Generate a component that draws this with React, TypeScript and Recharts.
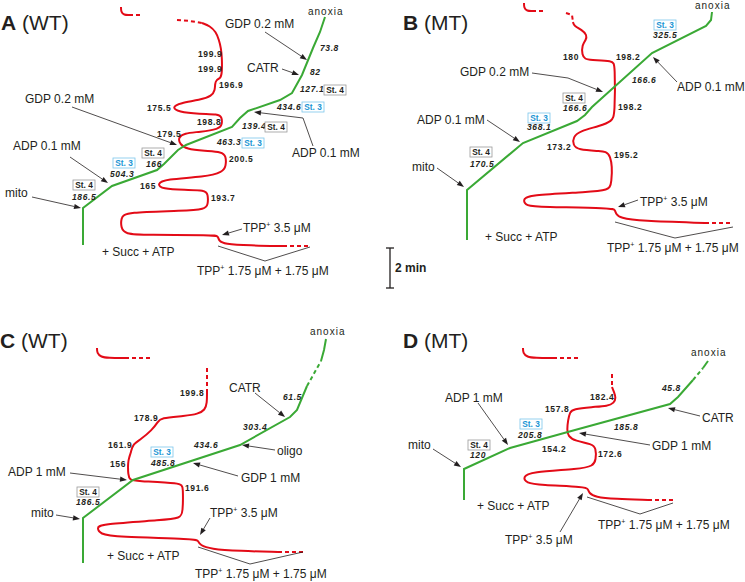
import React from 'react';
import { ComposedChart, Line, XAxis, YAxis, ReferenceLine, ReferenceDot } from 'recharts';

type Pt = [number, number];

const W = 745;
const H = 582;
const RED = '#e30b17';
const GREEN = '#3aa935';
const INK = '#231f20';
const BLUE = '#1b95d4';
const FONT = '"Liberation Sans", Arial, Helvetica, sans-serif';

// ---- traces, in figure units (x across, y = time running down) ----
// panel A (WT)
const aRedTop: Pt[] = [[121, 7], [121, 12], [124, 15], [129, 15]];
const aRedTopDash: Pt[] = [[129, 15], [141, 15]];
const aRedMidDash: Pt[] = [[177, 20], [190, 21], [202, 23]];
const aRed: Pt[] = [
  [202, 23], [210, 26], [216, 32], [219, 40], [221, 48], [222, 58], [222, 72], [221, 78], [216, 80],
  [215, 84], [215, 90], [212, 96], [200, 100], [180, 103], [172, 107], [178, 112], [200, 114], [218, 114],
  [222, 117], [222, 125], [219, 129], [200, 132], [184, 133], [178, 138], [180, 144], [186, 149], [205, 151],
  [222, 152], [226, 156], [226, 166], [223, 172], [205, 177], [165, 179], [157, 184], [162, 189], [185, 190],
  [205, 190], [208, 194], [208, 205], [205, 209], [185, 211], [125, 212], [121, 218], [121, 228], [125, 234],
  [145, 235], [214, 235], [218, 236], [219, 241], [224, 244], [250, 245.5], [283, 246],
];
const aRedEndDash: Pt[] = [[283, 246], [310, 246]];
const aGreen: Pt[] = [
  [83, 245], [83, 208], [112, 186], [157, 170], [164, 164], [178, 150], [186, 145], [232, 127], [240, 118],
  [248, 111], [280, 100], [292, 93], [302, 75], [313, 48], [320, 32], [325, 17],
];

// panel B (MT)
const bRedTop: Pt[] = [[524, 3], [524, 8], [527, 11], [532, 11]];
const bRedTopDash: Pt[] = [[532, 11], [544, 11]];
const bRedMidDash: Pt[] = [[566, 13], [572, 15], [573, 22]];
const bRed: Pt[] = [
  [573, 22], [574, 26], [582, 30], [587, 35], [586, 40], [582, 45], [582, 55], [585, 59], [590, 60], [613, 61],
  [615, 64], [615, 115], [612, 121], [600, 126], [580, 131], [573, 137], [573, 145], [578, 150], [600, 151],
  [612, 152], [612, 185], [608, 190], [590, 192], [527, 195], [523, 200], [526, 206], [540, 207], [613, 208],
  [615, 210], [616, 214], [620, 218], [640, 221], [705, 223],
];
const bRedEndDash: Pt[] = [[705, 223], [732, 223]];
const bGreen: Pt[] = [
  [467, 240], [467, 190], [523, 143], [577, 121], [585, 115], [592, 107], [652, 53], [706, 26], [711, 20], [712, 12],
];

// panel C (WT)
const cRedTop: Pt[] = [[97, 348], [97, 353], [101, 357], [108, 358], [125, 358]];
const cRedTopDash: Pt[] = [[125, 358], [152, 358]];
const cRedMidDash: Pt[] = [[207, 368], [207, 392]];
const cRed: Pt[] = [
  [207, 392], [207, 403], [205, 410], [198, 414], [185, 416], [160, 418], [158, 422], [152, 430], [140, 440],
  [133, 444], [131, 452], [129, 458], [128, 462], [128, 475], [130, 480], [135, 481], [182, 483], [183, 487],
  [183, 513], [180, 518], [165, 520], [100, 524], [97, 528], [100, 534], [115, 537], [197, 539], [198, 541],
  [200, 545], [210, 549], [240, 551], [278, 552],
];
const cRedEndDash: Pt[] = [[278, 552], [303, 552]];
const cGreen: Pt[] = [[83, 563], [83, 518], [133, 480], [240, 445], [290, 417], [297, 410], [307, 386]];
const cGreenDash: Pt[] = [[307, 386], [321, 361]];
const cGreenTop: Pt[] = [[321, 361], [324, 350], [326, 339]];

// panel D (MT)
const dRedTop: Pt[] = [[523, 348], [523, 353], [527, 357], [535, 358], [553, 358]];
const dRedTopDash: Pt[] = [[553, 358], [578, 358]];
const dRedMidDash: Pt[] = [[612, 374], [612, 387]];
const dRed: Pt[] = [
  [612, 387], [614, 392], [616, 398], [614, 403], [608, 406], [592, 407], [573, 409], [570, 412], [568, 420],
  [567, 430], [568, 436], [575, 441], [592, 444], [596, 448], [596, 460], [593, 466], [580, 469], [530, 472],
  [523, 477], [526, 483], [540, 485], [586, 487], [588, 489], [589, 493], [595, 497], [615, 499], [648, 500],
];
const dRedEndDash: Pt[] = [[648, 500], [674, 500]];
const dGreen: Pt[] = [[464, 500], [464, 469], [510, 448], [575, 430], [670, 404], [678, 397], [693, 380]];
const dGreenDash: Pt[] = [[693, 380], [703, 368]];
const dGreenTop: Pt[] = [[703, 368], [708, 361]];

const traces: { pts: Pt[]; color: string; dash?: boolean; smooth?: boolean }[] = [
  { pts: aRedTop, color: RED, smooth: true }, { pts: aRedTopDash, color: RED, dash: true },
  { pts: aRedMidDash, color: RED, dash: true }, { pts: aRed, color: RED, smooth: true },
  { pts: aRedEndDash, color: RED, dash: true }, { pts: aGreen, color: GREEN },
  { pts: bRedTop, color: RED, smooth: true }, { pts: bRedTopDash, color: RED, dash: true },
  { pts: bRedMidDash, color: RED, dash: true }, { pts: bRed, color: RED, smooth: true },
  { pts: bRedEndDash, color: RED, dash: true }, { pts: bGreen, color: GREEN },
  { pts: cRedTop, color: RED, smooth: true }, { pts: cRedTopDash, color: RED, dash: true },
  { pts: cRedMidDash, color: RED, dash: true }, { pts: cRed, color: RED, smooth: true },
  { pts: cRedEndDash, color: RED, dash: true }, { pts: cGreen, color: GREEN },
  { pts: cGreenDash, color: GREEN, dash: true }, { pts: cGreenTop, color: GREEN },
  { pts: dRedTop, color: RED, smooth: true }, { pts: dRedTopDash, color: RED, dash: true },
  { pts: dRedMidDash, color: RED, dash: true }, { pts: dRed, color: RED, smooth: true },
  { pts: dRedEndDash, color: RED, dash: true }, { pts: dGreen, color: GREEN },
  { pts: dGreenDash, color: GREEN, dash: true }, { pts: dGreenTop, color: GREEN },
];

// ---- text ----
const titles: [string, string, number, number][] = [
  ['A', '(WT)', 1, 30], ['B', '(MT)', 403, 30], ['C', '(WT)', 0, 348], ['D', '(MT)', 403, 348],
];

// annotations: text, left x, baseline y
const notes: [string, number, number][] = [
  ['GDP 0.2 mM', 225, 28], ['CATR', 247, 72], ['GDP 0.2 mM', 25, 103], ['ADP 0.1 mM', 13, 150],
  ['mito', 5, 197], ['ADP 0.1 mM', 292, 157], ['TPP+ 3.5 μM', 243, 232], ['+ Succ + ATP', 102, 256],
  ['TPP+ 1.75 μM + 1.75 μM', 197, 275],
  ['GDP 0.2 mM', 460, 76], ['ADP 0.1 mM', 417, 124], ['ADP 0.1 mM', 677, 91], ['mito', 412, 171],
  ['TPP+ 3.5 μM', 640, 206], ['+ Succ + ATP', 485, 241], ['TPP+ 1.75 μM + 1.75 μM', 607, 252],
  ['CATR', 229, 392], ['oligo', 277, 455], ['GDP 1 mM', 241, 482], ['ADP 1 mM', 8, 476], ['mito', 31, 517],
  ['TPP+ 3.5 μM', 210, 517], ['+ Succ + ATP', 107, 560], ['TPP+ 1.75 μM + 1.75 μM', 195, 578],
  ['ADP 1 mM', 445, 402], ['CATR', 702, 422], ['GDP 1 mM', 652, 450], ['mito', 408, 449],
  ['+ Succ + ATP', 477, 510], ['TPP+ 3.5 μM', 505, 544], ['TPP+ 1.75 μM + 1.75 μM', 598, 529],
];

const anoxia: [number, number][] = [[308, 15], [695, 9], [310, 335], [691, 356]];

// membrane potential values (red trace), plain bold
const mvValues: [string, number, number][] = [
  ['199.9', 198, 57], ['199.9', 198, 72], ['196.9', 219, 88], ['175.5', 147, 111], ['198.8', 197, 125],
  ['179.5', 157, 137], ['200.5', 229, 162], ['165', 140, 189], ['193.7', 211, 201],
  ['180', 563, 60], ['198.2', 616, 60], ['198.2', 618, 110], ['173.2', 547, 150], ['195.2', 614, 158],
  ['199.8', 180, 396], ['178.9', 134, 421], ['161.9', 108, 448], ['156', 110, 467], ['191.6', 185, 491],
  ['182.4', 590, 400], ['157.8', 545, 412], ['154.2', 542, 452], ['172.6', 598, 457],
];

// respiration rates (green trace), bold italic
const rates: [string, number, number][] = [
  ['73.8', 320, 51], ['82', 310, 75], ['127.1', 300, 92], ['434.6', 277, 110], ['139.4', 242, 129],
  ['463.3', 217, 145], ['166', 146, 167], ['504.3', 110, 177], ['186.5', 72, 200],
  ['166.6', 632, 83], ['325.5', 653, 38], ['166.6', 563, 111], ['368.1', 527, 130], ['170.5', 470, 167],
  ['61.5', 283, 400], ['303.4', 243, 430], ['434.6', 194, 448], ['485.8', 151, 466], ['186.5', 76, 505],
  ['45.8', 662, 391], ['185.8', 614, 430], ['205.8', 518, 438], ['120', 470, 458],
];

// state boxes: state, left, top
const states: [3 | 4, number, number][] = [
  [4, 324, 85], [3, 302, 102], [4, 265, 122], [3, 242, 138], [4, 142, 148], [3, 113, 158], [4, 73, 180],
  [3, 654, 20], [4, 563, 93], [3, 528, 113], [4, 470, 147],
  [3, 151, 447], [4, 77, 487],
  [3, 520, 419], [4, 468, 440],
];

// arrows (last segment gets the head) and brackets
const arrows: Pt[][] = [
  [[265, 32], [307, 60]], [[282, 69], [299, 75]], [[72, 107], [177, 145]], [[70, 157], [108, 183]],
  [[32, 197], [81, 208]], [[313, 146], [303, 118], [254, 112]], [[242, 229], [222, 235]],
  [[532, 73], [568, 78], [603, 92]], [[487, 120], [520, 142]], [[677, 82], [653, 57]], [[437, 168], [464, 187]],
  [[638, 200], [618, 207]],
  [[255, 393], [285, 417]], [[275, 450], [242, 445]], [[238, 476], [193, 463]], [[70, 473], [127, 480]],
  [[56, 515], [80, 519]], [[210, 518], [200, 535]],
  [[478, 403], [508, 445]], [[700, 416], [668, 408]], [[650, 445], [579, 433]], [[433, 449], [461, 467]],
  [[560, 532], [583, 493]],
];
const brackets: Pt[][] = [
  [[218, 246], [265, 261], [310, 247]], [[615, 222], [675, 238], [733, 227]],
  [[198, 547], [250, 564], [303, 552]], [[587, 497], [640, 514], [673, 503]],
];

const scaleBar: Pt[] = [[390, 248], [390, 288]];

function segShape(head: boolean) {
  return (p: any) => {
    const { x1, y1, x2, y2 } = p;
    const dx = x2 - x1;
    const dy = y2 - y1;
    const len = Math.hypot(dx, dy) || 1;
    const ux = dx / len;
    const uy = dy / len;
    const hl = 7;
    const hw = 2.6;
    const bx = x2 - ux * hl;
    const by = y2 - uy * hl;
    return (
      <g>
        <line x1={x1} y1={y1} x2={head ? bx : x2} y2={head ? by : y2} stroke={INK} strokeWidth={0.8} />
        {head && (
          <polygon
            points={`${x2},${y2} ${bx - uy * hw},${by + ux * hw} ${bx + uy * hw},${by - ux * hw}`}
            fill={INK}
          />
        )}
      </g>
    );
  };
}

function noteText(s: string) {
  if (s.startsWith('TPP+')) {
    return (
      <>
        TPP<tspan dy={-5} fontSize={7}>+</tspan>
        <tspan dy={5}>{s.slice(4)}</tspan>
      </>
    );
  }
  return s;
}

const pts = (a: Pt[]) => a.map(([x, y]) => ({ x, y }));

export default function App() {
  return (
    <div style={{ width: W, height: H, background: '#fff' }}>
      <style>{'body{margin:0}'}</style>
      <ComposedChart width={W} height={H} margin={{ top: 0, right: 0, bottom: 0, left: 0 }}>
        <XAxis type="number" dataKey="x" domain={[0, W]} hide allowDataOverflow />
        <YAxis type="number" dataKey="y" domain={[0, H]} reversed hide allowDataOverflow />

        {traces.map((t, i) => (
          <Line
            key={'t' + i}
            data={pts(t.pts)}
            dataKey="y"
            type={t.smooth ? 'basis' : 'linear'}
            stroke={t.color}
            strokeWidth={2}
            strokeDasharray={t.dash ? '4 3' : undefined}
            dot={false}
            activeDot={false}
            isAnimationActive={false}
          />
        ))}

        {arrows.flatMap((a, i) =>
          a.slice(1).map((q, j) => (
            <ReferenceLine
              key={`a${i}-${j}`}
              segment={[{ x: a[j][0], y: a[j][1] }, { x: q[0], y: q[1] }]}
              shape={segShape(j === a.length - 2)}
            />
          )),
        )}
        {brackets.flatMap((a, i) =>
          a.slice(1).map((q, j) => (
            <ReferenceLine
              key={`b${i}-${j}`}
              segment={[{ x: a[j][0], y: a[j][1] }, { x: q[0], y: q[1] }]}
              shape={segShape(false)}
            />
          )),
        )}

        {/* 2 min scale bar */}
        <ReferenceLine
          segment={[{ x: scaleBar[0][0], y: scaleBar[0][1] }, { x: scaleBar[1][0], y: scaleBar[1][1] }]}
          shape={(p: any) => (
            <g stroke={INK} strokeWidth={1.3}>
              <line x1={p.x1} y1={p.y1} x2={p.x2} y2={p.y2} />
              <line x1={p.x1 - 4} y1={p.y1} x2={p.x1 + 4} y2={p.y1} />
              <line x1={p.x2 - 4} y1={p.y2} x2={p.x2 + 4} y2={p.y2} />
            </g>
          )}
        />
        <ReferenceDot
          x={395}
          y={272}
          shape={(p: any) => (
            <text x={p.cx} y={p.cy} fontFamily={FONT} fontSize={12} fontWeight="bold" fill={INK}>2 min</text>
          )}
        />

        {titles.map(([l, s, x, y]) => (
          <ReferenceDot
            key={'ti' + l}
            x={x}
            y={y}
            shape={(p: any) => (
              <text x={p.cx} y={p.cy} fontFamily={FONT} fontSize={21} fill={INK}>
                <tspan fontWeight="bold">{l}</tspan> {s}
              </text>
            )}
          />
        ))}

        {notes.map(([s, x, y], i) => (
          <ReferenceDot
            key={'n' + i}
            x={x}
            y={y}
            shape={(p: any) => (
              <text x={p.cx} y={p.cy} fontFamily={FONT} fontSize={12} fill={INK}>{noteText(s)}</text>
            )}
          />
        ))}

        {anoxia.map(([x, y], i) => (
          <ReferenceDot
            key={'ax' + i}
            x={x}
            y={y}
            shape={(p: any) => (
              <text x={p.cx} y={p.cy} fontFamily={FONT} fontSize={10} letterSpacing={1} fill={INK}>anoxia</text>
            )}
          />
        ))}

        {mvValues.map(([s, x, y], i) => (
          <ReferenceDot
            key={'m' + i}
            x={x}
            y={y}
            shape={(p: any) => (
              <text x={p.cx} y={p.cy} fontFamily={FONT} fontSize={8.5} fontWeight="bold" letterSpacing={0.6} fill={INK}>
                {s}
              </text>
            )}
          />
        ))}

        {rates.map(([s, x, y], i) => (
          <ReferenceDot
            key={'r' + i}
            x={x}
            y={y}
            shape={(p: any) => (
              <text
                x={p.cx}
                y={p.cy}
                fontFamily={FONT}
                fontSize={8.5}
                fontWeight="bold"
                fontStyle="italic"
                letterSpacing={0.6}
                fill={INK}
              >
                {s}
              </text>
            )}
          />
        ))}

        {states.map(([st, x, y], i) => (
          <ReferenceDot
            key={'s' + i}
            x={x}
            y={y}
            shape={(p: any) => (
              <g>
                <rect
                  x={p.cx}
                  y={p.cy}
                  width={22}
                  height={10}
                  fill="#fff"
                  stroke={st === 3 ? '#7cc6ec' : '#9a9a9a'}
                  strokeWidth={0.8}
                />
                <text
                  x={p.cx + 11}
                  y={p.cy + 8.3}
                  textAnchor="middle"
                  fontFamily={FONT}
                  fontSize={8.3}
                  fontWeight="bold"
                  fill={st === 3 ? BLUE : INK}
                >
                  {`St. ${st}`}
                </text>
              </g>
            )}
          />
        ))}
      </ComposedChart>
    </div>
  );
}
